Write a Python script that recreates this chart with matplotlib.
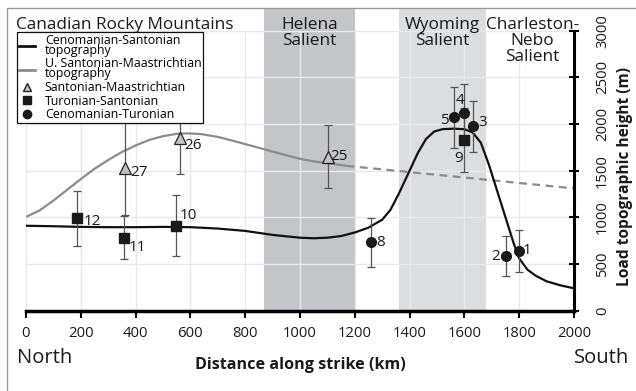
import matplotlib
matplotlib.use('Agg')
import matplotlib.pyplot as plt
from matplotlib.lines import Line2D

plt.rcParams['font.family'] = ['Open Sans', 'DejaVu Sans']

# ---------------- data ----------------
# Cenomanian-Santonian topography (black curve)
cs_x = [0, 100, 200, 300, 400, 500, 600, 700, 800, 900, 1000, 1050, 1100, 1150, 1200,
        1250, 1300, 1330, 1360, 1400, 1430, 1460, 1490, 1520, 1560, 1600, 1630, 1660,
        1690, 1720, 1750, 1780, 1800, 1830, 1860, 1900, 1950, 2000]
cs_y = [910, 905, 898, 895, 895, 898, 895, 880, 855, 812, 782, 776, 782, 800, 838,
        890, 975, 1080, 1250, 1500, 1690, 1840, 1920, 1945, 1950, 1945, 1910, 1800,
        1560, 1280, 1000, 720, 560, 440, 375, 315, 272, 240]

# U. Santonian-Maastrichtian topography (grey curve, solid then dashed)
usm_x = [0, 50, 100, 150, 200, 250, 300, 350, 400, 450, 500, 550, 590, 640, 700,
         750, 800, 850, 900, 950, 1000, 1050, 1100, 1170]
usm_y = [1005, 1075, 1180, 1295, 1410, 1520, 1615, 1700, 1770, 1830, 1870, 1895, 1900,
         1892, 1862, 1825, 1785, 1745, 1705, 1665, 1628, 1600, 1580, 1552]
usm_dash_x = [1170, 2000]
usm_dash_y = [1552, 1310]

# Santonian-Maastrichtian (triangles)
tri_x = [361, 562, 1102]
tri_y = [1525, 1847, 1650]
tri_err = [500, 380, 335]
tri_lab = ['27', '26', '25']

# Turonian-Santonian (squares)
sq_x = [185, 359, 547, 1600]
sq_y = [990, 782, 911, 1829]
sq_err = [297, 232, 327, 340]
sq_lab = ['12', '11', '10', '9']

# Cenomanian-Turonian (circles)
ci_x = [1258, 1562, 1600, 1630, 1752, 1799]
ci_y = [733, 2070, 2118, 1975, 586, 640]
ci_err = [260, 330, 315, 270, 215, 220]
ci_lab = ['8', '5', '4', '3', '2', '1']

# shaded salients
span_start = [870, 1360]
span_end = [1200, 1680]
span_colors = ['#c4c5c9', '#dcdddf']

region_names = ['Canadian Rocky Mountains', 'Helena\nSalient', 'Wyoming\nSalient',
                'Charleston-\nNebo\nSalient']
region_x = [-35, 1035, 1520, 1848]

x_ticks = [0, 200, 400, 600, 800, 1000, 1200, 1400, 1600, 1800, 2000]
y_ticks = [0, 500, 1000, 1500, 2000, 2500, 3000]

# label offsets (points)
lab_off = {'27': (4, -3, 'left'), '26': (3, -5, 'left'), '25': (2, 0, 'left'),
           '12': (5, -2, 'left'), '11': (3, -7, 'left'), '10': (3, 7, 'left'),
           '9': (-4, -13, 'center'), '8': (4, 0, 'left'), '5': (-4, -2, 'right'),
           '4': (-3, 9, 'center'), '3': (4, 3, 'left'), '2': (-4, 0, 'right'),
           '1': (3, 0, 'left')}

# ---------------- figure ----------------
W, H = 636, 391
fig = plt.figure(figsize=(W / 100, H / 100), dpi=100)
ax_bottom = 310.7
ax_top = 8
ax = fig.add_axes([26 / W, 1 - ax_bottom / H, 548 / W, (ax_bottom - ax_top) / H])
ax.set_xlim(0, 2000)
ymax = (ax_bottom - ax_top) / 280.0 * 3000
ax.set_ylim(0, ymax)

# figure frame (top and left)
fig.add_artist(Line2D([7 / W, 7 / W, 1], [0, 1 - 8 / H, 1 - 8 / H],
                      transform=fig.transFigure, color='#9a9a9a', lw=1))

for s0, s1, c in zip(span_start, span_end, span_colors):
    ax.axvspan(s0, s1, color=c, lw=0, zorder=0.5)

ax.vlines(x_ticks, 0, 3000, color='#e9e9e9', lw=1, zorder=1)
ax.hlines(y_ticks[1:], 0, 2000, color='#e9e9e9', lw=1, zorder=1)

ax.plot(usm_x, usm_y, color='#8c8c8c', lw=1.6, zorder=3, solid_capstyle='butt')
ax.plot(usm_dash_x, usm_dash_y, color='#8c8c8c', lw=1.6, ls=(0, (3.5, 2.5)), zorder=3)
ax.plot(cs_x, cs_y, color='#111111', lw=1.6, zorder=3)

eb_kw = dict(fmt='none', ecolor='#555555', elinewidth=0.9, capsize=3.2, capthick=0.9, zorder=4)
ax.errorbar(tri_x, tri_y, yerr=tri_err, **eb_kw)
ax.errorbar(sq_x, sq_y, yerr=sq_err, **eb_kw)
ax.errorbar(ci_x, ci_y, yerr=ci_err, **eb_kw)

ax.plot(tri_x, tri_y, ls='none', marker='^', ms=8, mfc='#c2c2c2', mec='#222222', mew=0.9, zorder=5)
ax.plot(sq_x, sq_y, ls='none', marker='s', ms=6.5, mfc='#1a1a1a', mec='#1a1a1a', zorder=5)
ax.plot(ci_x, ci_y, ls='none', marker='o', ms=7, mfc='#1a1a1a', mec='#1a1a1a', zorder=5)

for xs, ys, labs in [(tri_x, tri_y, tri_lab), (sq_x, sq_y, sq_lab), (ci_x, ci_y, ci_lab)]:
    for x, y, l in zip(xs, ys, labs):
        dx, dy, ha = lab_off[l]
        ax.annotate(l, (x, y), xytext=(dx, dy), textcoords='offset points',
                    ha=ha, va='center', fontsize=11, color='#1a1a1a', zorder=6)

# region titles
for name, x in zip(region_names, region_x):
    ha = 'left' if x < 0 else 'center'
    ax.text(x, 1 - 9 / (ax_bottom - ax_top), name, transform=ax.get_xaxis_transform(),
            ha=ha, va='top', fontsize=12.4, linespacing=0.98, color='#1a1a1a', zorder=7)

# spines
for s in ['left', 'top']:
    ax.spines[s].set_visible(False)
ax.spines['right'].set_bounds(0, 3000)
ax.spines['right'].set_linewidth(2.2)
ax.spines['bottom'].set_bounds(0, 2000)
ax.spines['bottom'].set_linewidth(2.5)
ax.spines['bottom'].set_zorder(8)
ax.spines['right'].set_zorder(8)

ax.set_xticks(x_ticks)
ax.set_yticks(y_ticks)
ax.yaxis.tick_right()
ax.tick_params(axis='x', direction='out', length=5, width=1.5, labelsize=10.7, pad=6,
               labelcolor='#1a1a1a')
ax.tick_params(axis='y', direction='inout', length=7, width=1.5, labelsize=10.7, pad=17,
               labelrotation=90, labelcolor='#1a1a1a')
for t in ax.get_yticklabels():
    t.set_ha('center')
    t.set_va('center')

fig.text(300 / W, 1 - 365 / H, 'Distance along strike (km)', ha='center', va='center',
         fontsize=11.6, fontweight='bold', color='#1a1a1a')
fig.text(625 / W, 1 - 177 / H, 'Load topographic height (m)', ha='center', va='center',
         rotation=90, fontsize=11.2, fontweight='bold', color='#1a1a1a')
fig.text(17 / W, 1 - 362.7 / H, 'North', ha='left', va='baseline', fontsize=14.5, color='#1a1a1a')
fig.text(574 / W, 1 - 362.7 / H, 'South', ha='left', va='baseline', fontsize=14.5, color='#1a1a1a')

handles = [Line2D([], [], color='#111111', lw=2),
           Line2D([], [], color='#8c8c8c', lw=2),
           Line2D([], [], ls='none', marker='^', ms=6, mfc='#c2c2c2', mec='#222222'),
           Line2D([], [], ls='none', marker='s', ms=6, mfc='#1a1a1a', mec='#1a1a1a'),
           Line2D([], [], ls='none', marker='o', ms=6, mfc='#1a1a1a', mec='#1a1a1a')]
labels = ['Cenomanian-Santonian\ntopography', 'U. Santonian-Maastrichtian\ntopography',
          'Santonian-Maastrichtian', 'Turonian-Santonian', 'Cenomanian-Turonian']
leg = ax.legend(handles, labels, loc='upper left', bbox_to_anchor=(17 / W, 1 - 32 / H),
                bbox_transform=fig.transFigure, borderaxespad=0, fontsize=8.9,
                frameon=True, fancybox=False, edgecolor='#111111', framealpha=1,
                handlelength=1.3, handletextpad=0.8, labelspacing=0.05, borderpad=0.15)
leg.get_frame().set_linewidth(0.9)
leg.set_zorder(9)
for t in leg.get_texts():
    t.set_linespacing(0.7)

fig.savefig('out.png', dpi=100)
